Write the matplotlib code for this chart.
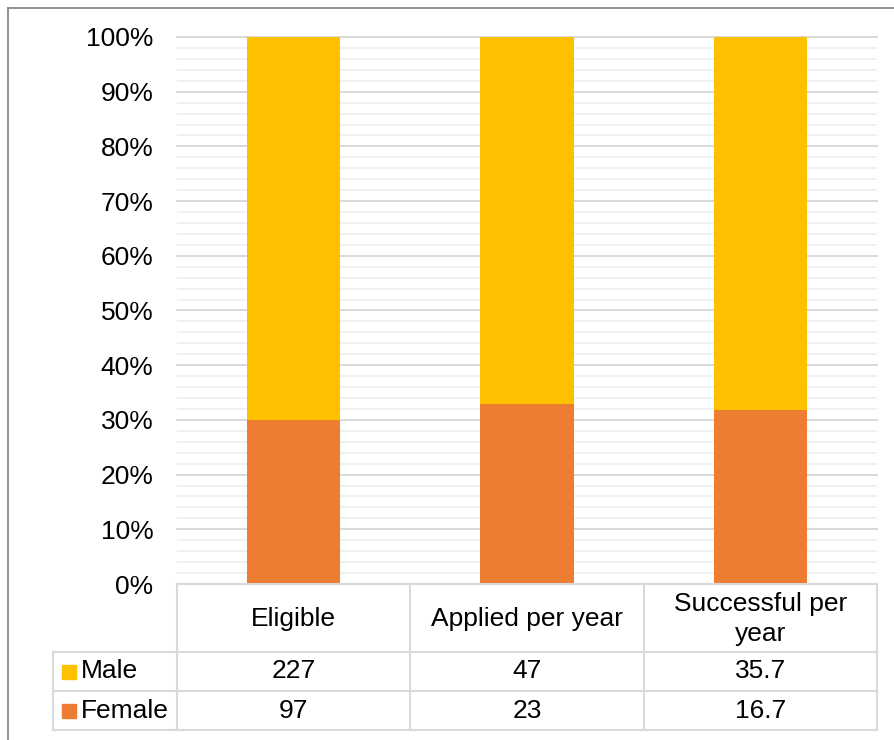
import matplotlib
matplotlib.use("Agg")
import matplotlib.pyplot as plt
import matplotlib.transforms as mtransforms
from matplotlib.patches import Rectangle
from matplotlib.ticker import MultipleLocator, PercentFormatter
import numpy as np

# ── data ──────────────────────────────────────────────────────────────────────
categories = ["Eligible", "Applied per year", "Successful per\nyear"]
series = ["Male", "Female"]
male = [227, 47, 35.7]
female = [97, 23, 16.7]
male_labels = ["227", "47", "35.7"]
female_labels = ["97", "23", "16.7"]

MALE_C = "#FFC000"
FEMALE_C = "#ED7D31"
MAJOR_C = "#d9d9d9"
MINOR_C = "#f0f0f0"
TABLE_C = "#d9d9d9"
FS = 19

plt.rcParams["font.family"] = ["Liberation Sans", "DejaVu Sans"]

W, H = 894, 740
fig = plt.figure(figsize=(W / 100, H / 100), dpi=100)


def box(l, t, r, b):
    return [l / W, 1 - b / H, (r - l) / W, (b - t) / H]


# ── bars ──────────────────────────────────────────────────────────────────────
ax = fig.add_axes(box(177, 37, 877, 584))
tot = np.array(male) + np.array(female)
f_share = np.array(female) / tot
m_share = np.array(male) / tot
x = np.arange(len(categories))
ax.bar(x, f_share, width=0.4, color=FEMALE_C, zorder=3)
ax.bar(x, m_share, bottom=f_share, width=0.4, color=MALE_C, zorder=3)
ax.set_xlim(-0.5, len(categories) - 0.5)
ax.set_ylim(0, 1)
ax.yaxis.set_major_locator(MultipleLocator(0.1))
ax.yaxis.set_minor_locator(MultipleLocator(0.02))
ax.yaxis.set_major_formatter(PercentFormatter(1.0, decimals=0))
ax.grid(axis="y", which="major", color=MAJOR_C, lw=1.4, clip_on=False)
ax.grid(axis="y", which="minor", color=MINOR_C, lw=1.4)
ax.set_axisbelow(True)
ax.tick_params(axis="y", which="both", length=0, labelsize=FS, pad=17)
ax.set_xticks([])
for s in ax.spines.values():
    s.set_visible(False)

# ── data table (overlay in pixel coords) ──────────────────────────────────────
ov = fig.add_axes([0, 0, 1, 1], zorder=5)
ov.set_xlim(0, W)
ov.set_ylim(H, 0)
ov.axis("off")
ov.patch.set_alpha(0)
tr = mtransforms.blended_transform_factory(ax.transData, ov.transData)

rows = [584, 652, 691, 730]
n = len(categories)
kw = dict(color=TABLE_C, lw=1.5, clip_on=False, solid_capstyle="projecting")
for xb in np.arange(n + 1) - 0.5:
    ov.plot([xb, xb], [rows[0], rows[-1]], transform=tr, **kw)
for yb in rows:
    ov.plot([-0.5, n - 0.5], [yb, yb], transform=tr, **kw)
ov.plot([53, 53], [rows[1], rows[-1]], **kw)
for yb in rows[1:]:
    ov.plot([53, 177], [yb, yb], **kw)

for i, cat in enumerate(categories):
    ov.text(i, (rows[0] + rows[1]) / 2 + 1, cat, transform=tr, ha="center",
            va="center", fontsize=FS, linespacing=1.3)
    ov.text(i, (rows[1] + rows[2]) / 2, male_labels[i], transform=tr,
            ha="center", va="center", fontsize=FS)
    ov.text(i, (rows[2] + rows[3]) / 2, female_labels[i], transform=tr,
            ha="center", va="center", fontsize=FS)

for name, col, (t, b) in zip(series, [MALE_C, FEMALE_C],
                             [(rows[1], rows[2]), (rows[2], rows[3])]):
    yc = (t + b) / 2
    ov.add_patch(Rectangle((62, yc - 7), 14, 14, color=col, clip_on=False))
    ov.text(81, yc, name, ha="left", va="center", fontsize=FS)

# outer frame (left + top only visible)
fkw = dict(color="#7f7f7f", lw=1.2, clip_on=False)
ov.plot([7.5, W], [7.5, 7.5], **fkw)
ov.plot([7.5, 7.5], [7.5, H], **fkw)

fig.savefig("out.png", dpi=100)
